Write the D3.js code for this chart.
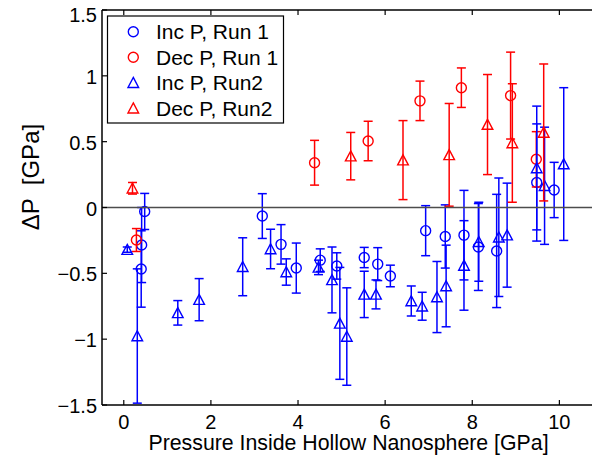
<!DOCTYPE html>
<html><head><meta charset="utf-8">
<script src="https://cdn.jsdelivr.net/npm/d3@7"></script>
<style>body{margin:0;background:#fff}svg{display:block}text{font-family:"Liberation Sans",Arial,Helvetica,sans-serif}</style>
</head><body><svg id="c" width="592" height="459"></svg>
<script>
// Inc P, Run 1 (blue circles)
const incRun1X   = [0.48, 0.41, 0.40, 3.18, 3.61, 3.96, 4.51, 4.89, 5.52, 5.83, 6.12, 6.93, 7.38, 7.81, 8.14, 8.56, 9.48, 9.88];
const incRun1Y   = [-0.03, -0.285, -0.467, -0.065, -0.28, -0.46, -0.40, -0.444, -0.38, -0.43, -0.52, -0.176, -0.22, -0.21, -0.30, -0.33, 0.19, 0.133];
const incRun1Err = [0.137, 0.285, 0.29, 0.17, 0.15, 0.19, 0.086, 0.10, 0.077, 0.125, 0.082, 0.19, 0.24, 0.34, 0.33, 0.43, 0.445, 0.21];
// Dec P, Run 1 (red circles)
const decRun1X   = [0.29, 4.38, 5.61, 6.80, 7.75, 8.88, 9.47];
const decRun1Y   = [-0.247, 0.34, 0.505, 0.81, 0.91, 0.85, 0.366];
const decRun1Err = [0.087, 0.17, 0.15, 0.15, 0.15, 0.33, 0.21];
// Inc P, Run2 (blue triangles)
const incRun2X   = [0.08, 0.31, 1.24, 1.73, 2.73, 3.37, 3.73, 4.47, 4.78, 4.96, 5.12, 5.52, 5.79, 6.60, 6.85, 7.19, 7.40, 7.81, 8.15, 8.61, 8.80, 9.48, 9.66, 10.10];
const incRun2Y   = [-0.32, -0.976, -0.80, -0.70, -0.45, -0.315, -0.49, -0.455, -0.55, -0.88, -0.98, -0.66, -0.66, -0.71, -0.75, -0.68, -0.596, -0.44, -0.26, -0.226, -0.21, 0.30, 0.165, 0.33];
const incRun2Err = [0.02, 0.51, 0.093, 0.16, 0.22, 0.15, 0.10, 0.055, 0.25, 0.425, 0.37, 0.176, 0.11, 0.114, 0.106, 0.27, 0.31, 0.34, 0.30, 0.45, 0.395, 0.47, 0.445, 0.58];
// Dec P, Run2 (red triangles)
const decRun2X   = [0.20, 5.21, 6.41, 7.47, 8.35, 8.92, 9.64];
const decRun2Y   = [0.146, 0.39, 0.36, 0.40, 0.63, 0.49, 0.57];
const decRun2Err = [0.044, 0.18, 0.30, 0.39, 0.38, 0.45, 0.52];

const xTicks = [0, 2, 4, 6, 8, 10];
const yTicks = [-1.5, -1, -0.5, 0, 0.5, 1, 1.5];
const legendLabels = ["Inc P, Run 1", "Dec P, Run 1", "Inc P, Run2", "Dec P, Run2"];

const svg = d3.select("#c");
const L = 102, T = 10, B = 405;
const x = d3.scaleLinear().domain([-0.5, 11]).range([L, L + 11.5 * 43.56]);
const y = d3.scaleLinear().domain([-1.5, 1.5]).range([B, T]);
const R = 600;

const series = [
  {xs: incRun1X, ys: incRun1Y, es: incRun1Err, color: "#0000ff", marker: "o"},
  {xs: decRun1X, ys: decRun1Y, es: decRun1Err, color: "#ff0000", marker: "o"},
  {xs: incRun2X, ys: incRun2Y, es: incRun2Err, color: "#0000ff", marker: "^"},
  {xs: decRun2X, ys: decRun2Y, es: decRun2Err, color: "#ff0000", marker: "^"}
];

function triPath(cx, cy) {
  const w = 5.3, h = 9.5;
  return `M${cx},${cy - h/2 - 0.5}L${cx + w},${cy + h/2}L${cx - w},${cy + h/2}Z`;
}
function drawMarker(g, m, cx, cy, color) {
  if (m === "o") g.append("circle").attr("cx", cx).attr("cy", cy).attr("r", 5)
      .attr("fill", "none").attr("stroke", color).attr("stroke-width", 1.4);
  else g.append("path").attr("d", triPath(cx, cy))
      .attr("fill", "none").attr("stroke", color).attr("stroke-width", 1.4).attr("stroke-linejoin", "miter");
}

const plot = svg.append("g");
series.forEach(s => {
  const g = plot.append("g");
  s.xs.forEach((xv, i) => {
    const cx = x(xv), y0 = y(s.ys[i] - s.es[i]), y1 = y(s.ys[i] + s.es[i]);
    g.append("line").attr("x1", cx).attr("x2", cx).attr("y1", y0).attr("y2", y1)
      .attr("stroke", s.color).attr("stroke-width", 1.5);
    [y0, y1].forEach(yy => g.append("line").attr("x1", cx - 4.5).attr("x2", cx + 4.5)
      .attr("y1", yy).attr("y2", yy).attr("stroke", s.color).attr("stroke-width", 1.5));
  });
  s.xs.forEach((xv, i) => drawMarker(g, s.marker, x(xv), y(s.ys[i]), s.color));
});

// zero line
svg.append("line").attr("x1", L).attr("x2", R).attr("y1", y(0)).attr("y2", y(0))
  .attr("stroke", "#4d4d4d").attr("stroke-width", 1.6);

// axes box
const axG = svg.append("g").attr("stroke", "#000").attr("stroke-width", 1.5);
axG.append("line").attr("x1", L).attr("x2", R).attr("y1", B).attr("y2", B);
axG.append("line").attr("x1", L).attr("x2", R).attr("y1", T).attr("y2", T);
axG.append("line").attr("x1", L).attr("x2", L).attr("y1", T).attr("y2", B);

const tl = 5;
xTicks.forEach(t => {
  axG.append("line").attr("x1", x(t)).attr("x2", x(t)).attr("y1", B).attr("y2", B - tl).attr("stroke-width", 1.2);
  axG.append("line").attr("x1", x(t)).attr("x2", x(t)).attr("y1", T).attr("y2", T + tl).attr("stroke-width", 1.2);
  svg.append("text").attr("x", x(t)).attr("y", 429).attr("text-anchor", "middle")
    .attr("font-size", 20).attr("fill", "#000").text(String(t));
});
yTicks.forEach(t => {
  axG.append("line").attr("x1", L).attr("x2", L + tl).attr("y1", y(t)).attr("y2", y(t)).attr("stroke-width", 1.2);
  const lab = t < 0 ? "\u2212" + String(-t) : String(t);
  svg.append("text").attr("x", 97).attr("y", (t === 1.5 ? y(t) + 4 : y(t)) + 8).attr("text-anchor", "end")
    .attr("font-size", 20).attr("fill", "#000").text(lab);
});

svg.append("text").attr("x", 348.5).attr("y", 450).attr("text-anchor", "middle")
  .attr("font-size", 21.3).attr("fill", "#000").text("Pressure Inside Hollow Nanosphere [GPa]");
svg.append("text").attr("transform", "translate(39,177) rotate(-90)").attr("text-anchor", "middle")
  .attr("font-size", 24).attr("fill", "#000").attr("xml:space", "preserve").style("white-space", "pre")
  .text("\u0394P  [GPa]");

// legend
const lg = svg.append("g");
lg.append("rect").attr("x", 107.5).attr("y", 16).attr("width", 176).attr("height", 107)
  .attr("fill", "#fff").attr("stroke", "#000").attr("stroke-width", 1.2);
const rowY = [31.7, 57.2, 82.7, 108.2];
series.forEach((s, i) => {
  drawMarker(lg, s.marker, 133.3, rowY[i], s.color);
  lg.append("text").attr("x", 156).attr("y", rowY[i] + 7.6).attr("font-size", 21)
    .attr("fill", "#000").text(legendLabels[i]);
});
</script></body></html>
